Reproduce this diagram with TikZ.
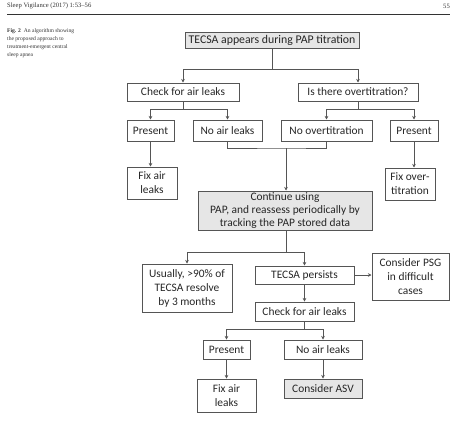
\documentclass[tikz,border=0pt]{standalone}
\usepackage{fontspec}
\setmainfont{Liberation Serif}
\newfontfamily\carl{Carlito}
\usetikzlibrary{arrows.meta}
\definecolor{boxgrey}{HTML}{E6E6E6}
\definecolor{linegrey}{HTML}{555555}
\begin{document}
\begin{tikzpicture}[x=1pt,y=-1pt,
  bx/.style={draw=linegrey, line width=1pt, inner sep=0pt, align=center, font=\carl\fontsize{11.4}{14}\selectfont, text=black!85},
  gbx/.style={bx, fill=boxgrey},
  ln/.style={draw=linegrey, line width=1pt},
  arr/.style={ln, -{Stealth[length=3.5pt,width=3.5pt]}}]
\useasboundingbox (0,0) rectangle (474,424);
% header
\node[anchor=west, inner sep=0pt, font=\fontsize{6.6}{8}\selectfont, text=black!80] (hdr) at (7,6) {Sleep Vigilance (2017) 1:53--56};
\node[anchor=east, inner sep=0pt, font=\fontsize{6.6}{8}\selectfont, text=black!80] (pg) at (450,6) {55};
\coordinate (rl) at (7,14.5);
\coordinate (rr) at (450,14.5);
\draw[line width=1.3pt, black!80] (rl) -- (rr);
\node[anchor=north west, inner sep=0pt, align=left, font=\fontsize{5.6}{8}\selectfont, text=black!80] (cap) at (7,28)
  {\textbf{Fig. 2}\enspace An algorithm showing\\the proposed approach to\\treatment-emergent central\\sleep apnea};
% boxes
\node[gbx, minimum width=174pt, minimum height=16pt, font=\carl\fontsize{11.8}{13}\selectfont] (top) at (272,40) {TECSA appears during PAP titration};
\node[bx, minimum width=112pt, minimum height=18pt] (check1) at (183,92) {Check for air leaks};
\node[bx, minimum width=120pt, minimum height=18pt] (over) at (358,92) {Is there overtitration?};
\node[bx, minimum width=47pt, minimum height=21pt] (pres1) at (150.5,130.5) {Present};
\node[bx, minimum width=69pt, minimum height=21pt] (noleak1) at (227.5,130.5) {No air leaks};
\node[bx, minimum width=91pt, minimum height=21pt] (noover) at (326.5,130.5) {No overtitration};
\node[bx, minimum width=48pt, minimum height=21pt] (pres2) at (414,130.5) {Present};
\node[bx, minimum width=50pt, minimum height=32pt] (fix1) at (152,183) {Fix air\\leaks};
\node[bx, minimum width=50pt, minimum height=32pt] (fixover) at (410,184) {Fix over-\\titration};
\node[gbx, minimum width=174pt, minimum height=39pt, font=\carl\fontsize{11.4}{12.6}\selectfont] (cont) at (285,210.5) {Continue using\\PAP, and reassess periodically by\\tracking the PAP stored data};
\node[bx, minimum width=90pt, minimum height=48pt] (usually) at (187,288) {Usually, >90\% of\\TECSA resolve\\by 3 months};
\node[bx, minimum width=99pt, minimum height=18pt] (persist) at (304.5,275) {TECSA persists};
\node[bx, minimum width=77pt, minimum height=47pt] (psg) at (410.5,276.5) {Consider PSG\\in difficult\\cases};
\node[bx, minimum width=99pt, minimum height=19pt] (check2) at (304.5,311.5) {Check for air leaks};
\node[bx, minimum width=47pt, minimum height=19pt] (pres3) at (226.5,349.5) {Present};
\node[bx, minimum width=78pt, minimum height=19pt] (noleak2) at (323,349.5) {No air leaks};
\node[bx, minimum width=59pt, minimum height=33pt] (fix2) at (226.5,395.5) {Fix air\\leaks};
\node[gbx, minimum width=78pt, minimum height=19pt] (asv) at (323,388.5) {Consider ASV};
% junctions
\coordinate (j1) at (272,69);
\coordinate (j2) at (183,109);
\coordinate (j3) at (358,109);
\coordinate (j4) at (286,148);
\coordinate (j5) at (286,252);
\coordinate (j6) at (304.5,329);
% connectors
\draw[ln] (top.south) -- (j1);
\draw[arr] (j1) -| (check1.north);
\draw[arr] (j1) -| (over.north);
\draw[ln] (check1.south) -- (j2);
\draw[arr] (j2) -| (pres1.north);
\draw[arr] (j2) -| (noleak1.north);
\draw[ln] (over.south) -- (j3);
\draw[arr] (j3) -| (noover.north);
\draw[arr] (j3) -| (pres2.north);
\draw[arr] (pres1.south) -- (pres1.south |- fix1.north);
\draw[arr] (pres2.south) -- (pres2.south |- fixover.north);
\draw[ln] (noleak1.south) |- (j4) -| (noover.south);
\draw[arr] (j4) -- (j4 |- cont.north);
\draw[ln] (cont.south -| j5) -- (j5);
\draw[arr] (j5) -| (usually.north);
\draw[arr] (j5) -| (persist.north);
\draw[arr] (persist.east) -- (psg.west |- persist.east);
\draw[arr] (persist.south) -- (check2.north);
\draw[ln] (check2.south) -- (j6);
\draw[arr] (j6) -| (pres3.north);
\draw[arr] (j6) -| (noleak2.north);
\draw[arr] (pres3.south) -- (fix2.north);
\draw[arr] (noleak2.south) -- (asv.north);
\end{tikzpicture}
\end{document}
